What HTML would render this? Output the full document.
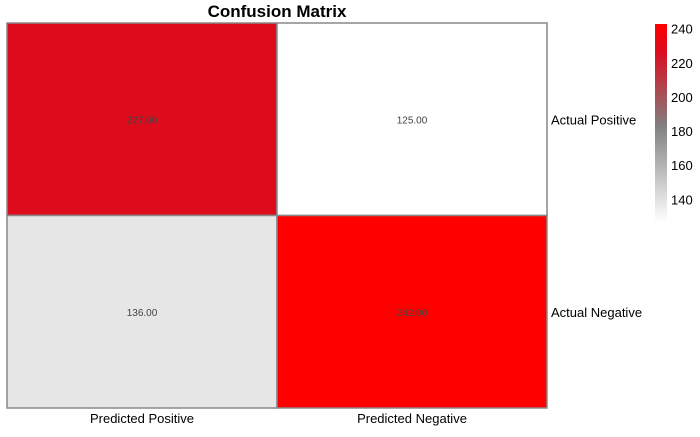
<!DOCTYPE html>
<html><head><meta charset="utf-8"><style>
body{margin:0;background:#fff;font-family:"Liberation Sans",sans-serif}
</style></head><body>
<svg id="c" width="700" height="432" xmlns="http://www.w3.org/2000/svg">
<defs><linearGradient id="g" x1="0" y1="1" x2="0" y2="0">
<stop offset="0" stop-color="#ffffff"/><stop offset="0.483" stop-color="#808080"/><stop offset="0.862" stop-color="#dc0c1e"/><stop offset="1" stop-color="#ff0000"/>
</linearGradient></defs>
<text x="277" y="17" text-anchor="middle" font-size="17" font-weight="bold">Confusion Matrix</text>
<g id="cells"></g>
<rect x="655" y="24" width="12" height="198" fill="url(#g)"/>
<g id="ticks"></g>
</svg>
<script>
const rowLabels=["Actual Positive","Actual Negative"];
const colLabels=["Predicted Positive","Predicted Negative"];
const values=[[227,125],[136,242]];
const cbTicks=[140,160,180,200,220,240];
const vmin=125,vmax=242;
const NS="http://www.w3.org/2000/svg";
const cg=document.getElementById('cells'),tg=document.getElementById('ticks');
const stops=[[0,[255,255,255]],[0.483,[128,128,128]],[0.862,[220,12,30]],[1,[255,0,0]]];
function color(v){
  const t=Math.max(0,Math.min(1,(v-vmin)/(vmax-vmin)));
  for(let k=1;k<stops.length;k++){
    if(t<=stops[k][0]){
      const a=stops[k-1],b=stops[k],u=(t-a[0])/(b[0]-a[0]);
      const c=a[1].map((x,i)=>Math.round(x+(b[1][i]-x)*u));
      return `rgb(${c[0]},${c[1]},${c[2]})`;
    }
  }
  return 'rgb(255,0,0)';
}
const x0=7,y0=23,cw=270,ch=192.5;
function el(tag,a,p){const e=document.createElementNS(NS,tag);for(const k in a)e.setAttribute(k,a[k]);(p||cg).appendChild(e);return e;}
values.forEach((row,i)=>row.forEach((v,j)=>{
  const r=el('rect',{x:x0+j*cw,y:y0+i*ch,width:cw,height:ch,fill:color(v),stroke:'#888',"stroke-width":1.5});
  
  
  const t=el('text',{x:x0+j*cw+cw/2,y:y0+i*ch+ch/2+4,"text-anchor":"middle","font-size":10,fill:'#444'});
  t.textContent=v.toFixed(2);
  
  
}));
rowLabels.forEach((l,i)=>{
  const t=el('text',{x:551,y:y0+i*ch+ch/2+5,"font-size":13});
  t.textContent=l;
  
  
});
colLabels.forEach((l,j)=>{
  const t=el('text',{x:x0+j*cw+cw/2,y:423,"text-anchor":"middle","font-size":13});
  t.textContent=l;
  
  
});
const cbTop=24,cbBot=222,cbMin=127,cbMax=243;
function cy(v){return cbBot-(v-cbMin)/(cbMax-cbMin)*(cbBot-cbTop);}
cbTicks.forEach(v=>{
  const t=el('text',{x:671,y:cy(v)+4.5,"font-size":13},tg);
  t.textContent=v;
  
  
});
</script>
</body></html>
